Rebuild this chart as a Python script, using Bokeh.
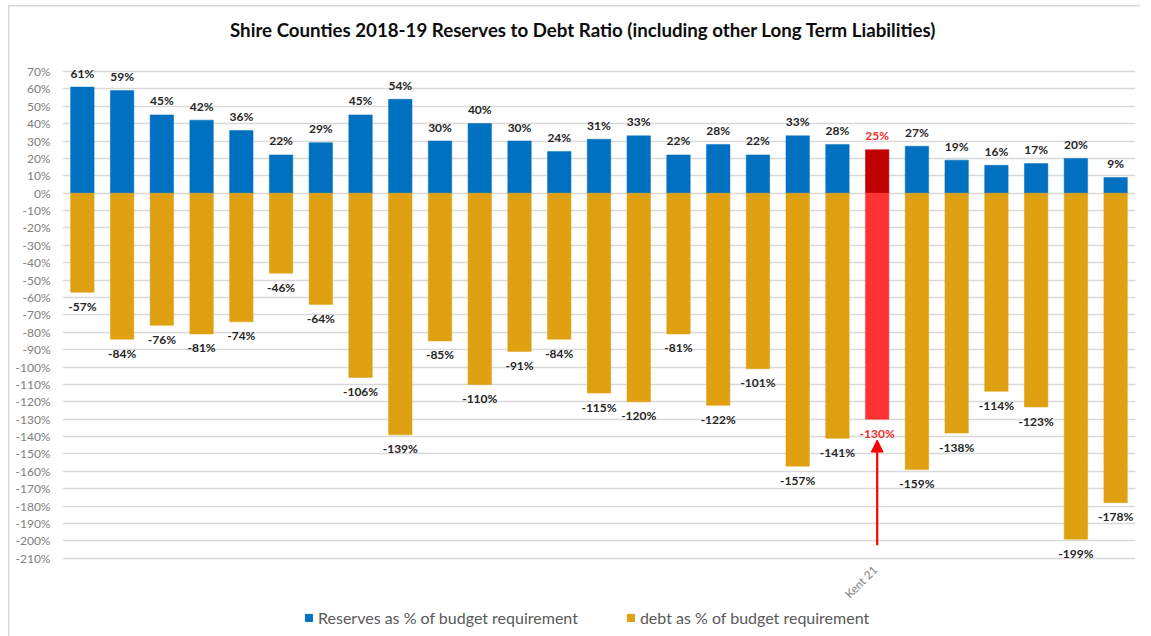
import math
from bokeh.plotting import figure
from bokeh.layouts import column
from bokeh.models import (ColumnDataSource, FixedTicker, Legend, LegendItem, Arrow,
                          NormalHead, Range1d, Div)
from bokeh.core.properties import value
from bokeh.embed import file_html
from bokeh.resources import INLINE

# ---- data ----
positions = list(range(1, 28))
reserves = [61, 59, 45, 42, 36, 22, 29, 45, 54, 30, 40, 30, 24, 31, 33, 22, 28, 22, 33, 28,
            25, 27, 19, 16, 17, 20, 9]
debt = [-57, -84, -76, -81, -74, -46, -64, -106, -139, -85, -110, -91, -84, -115, -120, -81,
        -122, -101, -157, -141, -130, -159, -138, -114, -123, -199, -178]
highlight_index = 20          # Kent (21st council)
highlight_label = "Kent  21"
y_ticks = list(range(-210, 71, 10))

title = "Shire Counties 2018-19 Reserves to Debt Ratio (including other Long Term Liabilities)"
series_names = ["Reserves as % of budget requirement", "debt as % of budget requirement"]

BLUE = "#0070C0"
GOLD = "#DFA012"
KENT_POS = "#C00000"
KENT_NEG = "#FF3333"
KENT_TXT = "#F0302E"
FONT = "Lato"
W_FIG = 1140

res_colors = [KENT_POS if i == highlight_index else BLUE for i in range(len(positions))]
debt_colors = [KENT_NEG if i == highlight_index else GOLD for i in range(len(positions))]
res_txt_colors = [KENT_TXT if i == highlight_index else "#262626" for i in range(len(positions))]
debt_txt_colors = [KENT_TXT if i == highlight_index else "#262626" for i in range(len(positions))]

src = ColumnDataSource(dict(
    x=positions, res=reserves, debt=debt,
    res_c=res_colors, debt_c=debt_colors,
    res_t=[f"{v}%" for v in reserves], debt_t=[f"{v}%" for v in debt],
    res_tc=res_txt_colors, debt_tc=debt_txt_colors,
))

# ---- title strip ----
title_div = Div(
    text=(f'<div style="font-family: Lato; font-weight: bold; font-size: 18.7px; '
          f'color: #0D0D0D; line-height: 24px; padding-top: 18px; padding-left: 230px; '
          f'white-space: nowrap;">{title}</div>'),
    width=W_FIG, height=44, margin=(0, 0, 0, 0))

p = figure(width=W_FIG, height=564, output_backend="svg", toolbar_location=None,
           x_range=Range1d(0.5, len(positions) + 0.5), y_range=Range1d(-213, 74),
           min_border_left=62, min_border_right=5, min_border_top=20, min_border_bottom=40)

p.outline_line_color = None
p.background_fill_color = "white"
p.border_fill_color = None

# grid
p.xgrid.grid_line_color = None
p.ygrid.grid_line_color = "#D9D9D9"
p.ygrid.grid_line_width = 1.3
p.yaxis.ticker = FixedTicker(ticks=y_ticks)

# y axis
p.yaxis.axis_line_color = None
p.yaxis.major_tick_line_color = None
p.yaxis.minor_tick_line_color = None
p.yaxis.major_tick_out = 0
p.yaxis.major_label_standoff = 12
p.yaxis.major_label_text_font = FONT
p.yaxis.major_label_text_font_size = "12px"
p.yaxis.major_label_text_color = "#808080"
p.yaxis.major_label_overrides = {t: f"{t}%" for t in y_ticks}

# x axis
p.xaxis.ticker = FixedTicker(ticks=[positions[highlight_index]])
p.xaxis.major_label_overrides = {positions[highlight_index]: highlight_label}
p.xaxis.major_label_orientation = math.pi / 4
p.xaxis.axis_line_color = None
p.xaxis.major_tick_line_color = None
p.xaxis.minor_tick_line_color = None
p.xaxis.major_tick_out = 0
p.xaxis.major_tick_in = 0
p.xaxis.major_label_standoff = 2
p.xaxis.major_label_text_font = FONT
p.xaxis.major_label_text_font_size = "11.5px"
p.xaxis.major_label_text_color = "#808080"

W = 0.59
p.vbar(x="x", top="res", bottom=0, width=W, fill_color="res_c", line_color="res_c",
       line_width=0.5, source=src)
p.vbar(x="x", top=0, bottom="debt", width=W, fill_color="debt_c",
       line_color="debt_c", line_width=0.5, source=src)

p.text(x="x", y="res", text="res_t", text_color="res_tc", text_align="center",
       text_baseline="middle", y_offset=-14, text_font=value(FONT), text_font_style="bold",
       text_font_size="12px", source=src)
p.text(x="x", y="debt", text="debt_t", text_color="debt_tc", text_align="center",
       text_baseline="middle", y_offset=14, text_font=value(FONT), text_font_style="bold",
       text_font_size="12px", source=src)

# arrow pointing at Kent
kx = positions[highlight_index]
p.add_layout(Arrow(end=NormalHead(size=12, fill_color="#FF0000", line_color="#FF0000"),
                   x_start=kx, y_start=-202.5, x_end=kx, y_end=debt[highlight_index] - 12,
                   line_color="#FF0000", line_width=2.2))

# ---- legend strip ----
pl = figure(width=W_FIG, height=28, output_backend="svg", toolbar_location=None,
            x_range=Range1d(0, 1), y_range=Range1d(0, 1),
            min_border_left=0, min_border_right=0, min_border_top=0, min_border_bottom=0)
pl.axis.visible = False
pl.grid.visible = False
pl.outline_line_color = None
pl.background_fill_color = None
pl.border_fill_color = None
d1 = pl.vbar(x=[0], top=[0], width=0.1, fill_color=BLUE, line_color=BLUE, visible=False)
d2 = pl.vbar(x=[0], top=[0], width=0.1, fill_color=GOLD, line_color=GOLD, visible=False)
legend = Legend(items=[LegendItem(label=series_names[0], renderers=[d1]),
                       LegendItem(label=series_names[1], renderers=[d2])],
                orientation="horizontal", location=(242, 9),
                label_text_font=FONT, label_text_font_size="16px",
                label_text_color="#595959", glyph_width=9, glyph_height=9,
                label_standoff=5, spacing=48, padding=0, margin=0,
                inactive_fill_alpha=0,
                border_line_color=None, background_fill_alpha=0)
pl.add_layout(legend, "center")

# faint chart-area frame (top and left edges) drawn behind the transparent borders
frame_css = {
    "background-color": "white",
    "background-image": "linear-gradient(#D9D9D9, #D9D9D9), linear-gradient(#D9D9D9, #D9D9D9)",
    "background-size": "100% 1.5px, 1.5px 100%",
    "background-position": "8px 5px, 8px 5px",
    "background-repeat": "no-repeat",
}
layout = column(title_div, p, pl, spacing=0, styles=frame_css)
open("out.html", "w").write(file_html(layout, INLINE))
